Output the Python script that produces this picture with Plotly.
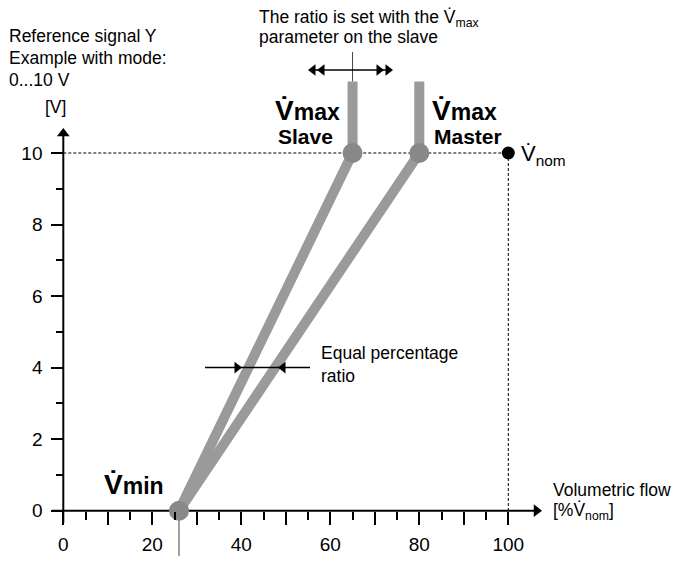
import plotly.graph_objects as go

# ---------------- data ----------------
x_tick_labels = ["0", "20", "40", "60", "80", "100"]
x_tick_values = [0, 20, 40, 60, 80, 100]
x_mid_ticks = [10, 30, 50, 70, 90]
x_minor_ticks = [5, 15, 25, 35, 45, 55, 65, 75, 85, 95]
y_tick_labels = ["0", "2", "4", "6", "8", "10"]
y_tick_values = [0, 2, 4, 6, 8, 10]
y_minor_ticks = [1, 3, 5, 7, 9]

v_min = 26            # % Vnom at 0 V
signal_max = 10       # V
slave_x = [26, 65, 65]
slave_y = [0, 10, 12]
master_x = [26, 80, 80]
master_y = [0, 10, 12]
v_nom_x = [100]
v_nom_y = [10]
equal_ratio_signal = 4  # V, where the equal-percentage arrows sit

# ---------------- layout helpers (pixel calibration) ----------------
W, H = 674, 565
X0PX, XSCALE = 63.3, 4.45      # pixel of x=0, px per unit
Y0PX, YSCALE = 510.7, 35.77    # pixel of y=0, px per unit


def X(px):
    return (px - X0PX) / XSCALE


def Y(py):
    return (Y0PX - py) / YSCALE


FONT = "Liberation Sans, Arial, sans-serif"
GRAY = "#9a9a9a"
DARK = "#888888"

fig = go.Figure()

# thick characteristic lines
for xs, ys in [(slave_x, slave_y), (master_x, master_y)]:
    fig.add_trace(go.Scatter(x=xs, y=ys, mode="lines",
                             line=dict(color=GRAY, width=10),
                             hoverinfo="skip", showlegend=False))
# joint circles
fig.add_trace(go.Scatter(x=[slave_x[0], slave_x[1], master_x[1]],
                         y=[slave_y[0], slave_y[1], master_y[1]],
                         mode="markers",
                         marker=dict(size=20, color=DARK, line=dict(width=0)),
                         hoverinfo="skip", showlegend=False))
# V nom point
fig.add_trace(go.Scatter(x=v_nom_x, y=v_nom_y, mode="markers",
                         marker=dict(size=13, color="black"),
                         hoverinfo="skip", showlegend=False))
# empty trace so the secondary (5 % tick) axis is drawn
fig.add_trace(go.Scatter(x=[None], y=[None], xaxis="x2", mode="markers",
                         hoverinfo="skip", showlegend=False))

shapes = []


def seg(x0, y0, x1, y1, width=1.5, dash=None, color="black", layer="below"):
    ln = dict(color=color, width=width)
    if dash:
        ln["dash"] = dash
    shapes.append(dict(type="line", xref="x", yref="y", x0=x0, x1=x1,
                       y0=y0, y1=y1, layer=layer, line=ln))


# axes lines
seg(X(52), 0, X(534), 0, width=2)
seg(0, Y(523), 0, Y(136), width=2)
# dashed reference lines
seg(0, signal_max, v_nom_x[0], signal_max, width=1, dash="3px,2px")
seg(v_nom_x[0], signal_max, v_nom_x[0], -0.15, width=1, dash="3px,2px")
# thin vertical line at V min
seg(v_min, 0, v_min, Y(556), width=1, color="#444")
# thin vertical line through the ratio arrow
seg(slave_x[1], slave_y[2], slave_x[1], Y(52), width=1, color="#444")
# equal-percentage arrow line
seg(X(205), equal_ratio_signal, X(310), equal_ratio_signal, layer="above")
# ratio arrow line
seg(X(309), Y(70), X(392), Y(70))


def heads(xs, ys, symbol, size):
    fig.add_trace(go.Scatter(x=xs, y=ys, mode="markers",
                             marker=dict(symbol=symbol, size=size, color="black",
                                         line=dict(width=0)),
                             hoverinfo="skip", showlegend=False))


# arrow heads (marker centre = tip - size/2)
heads([X(542 - 5.5)], [0], "triangle-right", 11)
heads([0], [Y(128 + 5.5)], "triangle-up", 11)
heads([X(308 + 5), X(317 + 5)], [Y(70), Y(70)], "triangle-left", 10)
heads([X(393 - 5), X(384 - 5)], [Y(70), Y(70)], "triangle-right", 10)
heads([X(242 - 5)], [equal_ratio_signal], "triangle-right", 10)
heads([X(278 + 5)], [equal_ratio_signal], "triangle-left", 10)

annotations = []


def label(text, left_px, cy_px, size=17.5, bold=False):
    if bold:
        text = "<b>" + text + "</b>"
    annotations.append(dict(x=X(left_px), y=Y(cy_px), xref="x", yref="y",
                            text=text, showarrow=False, xanchor="left",
                            yanchor="middle", borderpad=0,
                            font=dict(family=FONT, size=size, color="black")))


label("Reference signal Y", 8, 36)
label("Example with mode:", 8, 58)
label("0...10 V", 8, 80)
label("[V]", 44, 107)
label("The ratio is set with the V\u0307<sub>max</sub>", 258, 18)
label("parameter on the slave", 258, 37)
label("V\u0307<span style='font-size:23px'>max</span>", 274, 110, size=28, bold=True)
label("Slave", 277, 136, size=21, bold=True)
label("V\u0307<span style='font-size:23px'>max</span>", 431, 110, size=28, bold=True)
label("Master", 433, 136, size=21, bold=True)
label("V\u0307<sub>nom</sub>", 520, 155, size=22)
label("Equal percentage", 320, 353)
label("ratio", 320, 376)
label("V\u0307<span style='font-size:23px'>min</span>", 103, 484, size=28, bold=True)
label("Volumetric flow", 552, 490)
label("[%V\u0307<sub>nom</sub>]", 552, 511)

fig.update_layout(
    width=W, height=H, autosize=False,
    margin=dict(l=0, r=0, t=0, b=0),
    paper_bgcolor="white", plot_bgcolor="white",
    showlegend=False, shapes=shapes, annotations=annotations,
    font=dict(family=FONT, color="black"),
)

xpos = (H - Y0PX) / H
fig.update_layout(
    xaxis=dict(
        range=[X(0), X(W)], domain=[0, 1], anchor="free", position=xpos,
        showgrid=False, zeroline=False, showline=False,
        ticks="outside", tickvals=x_tick_values, ticktext=x_tick_labels,
        ticklen=13, tickwidth=1.5, tickcolor="black",
        minor=dict(tickvals=x_mid_ticks, ticklen=13, tickwidth=1.5,
                   tickcolor="black", ticks="outside", showgrid=False),
        tickfont=dict(family=FONT, size=19, color="black"),
        ticklabelstandoff=3, fixedrange=True,
    ),
    xaxis2=dict(
        range=[X(0), X(W)], domain=[0, 1], anchor="free", position=xpos,
        overlaying="x", showgrid=False, zeroline=False, showline=False,
        ticks="outside", tickvals=x_minor_ticks, showticklabels=False,
        ticklen=8, tickwidth=1.5, tickcolor="black", fixedrange=True,
    ),
    yaxis=dict(
        range=[Y(H), Y(0)], domain=[0, 1], anchor="free", position=X0PX / W,
        showgrid=False, zeroline=False, showline=False,
        ticks="outside", tickvals=y_tick_values, ticktext=y_tick_labels,
        ticklen=12, tickwidth=1.5, tickcolor="black",
        minor=dict(tickvals=y_minor_ticks, ticklen=7, tickwidth=1.5,
                   tickcolor="black", ticks="outside", showgrid=False),
        tickfont=dict(family=FONT, size=19, color="black"),
        ticklabelstandoff=5, fixedrange=True,
    ),
)

fig.write_html("out.html", config={"displayModeBar": False},
               post_script="document.body.style.margin='0';"
                           "document.body.style.padding='0';")
